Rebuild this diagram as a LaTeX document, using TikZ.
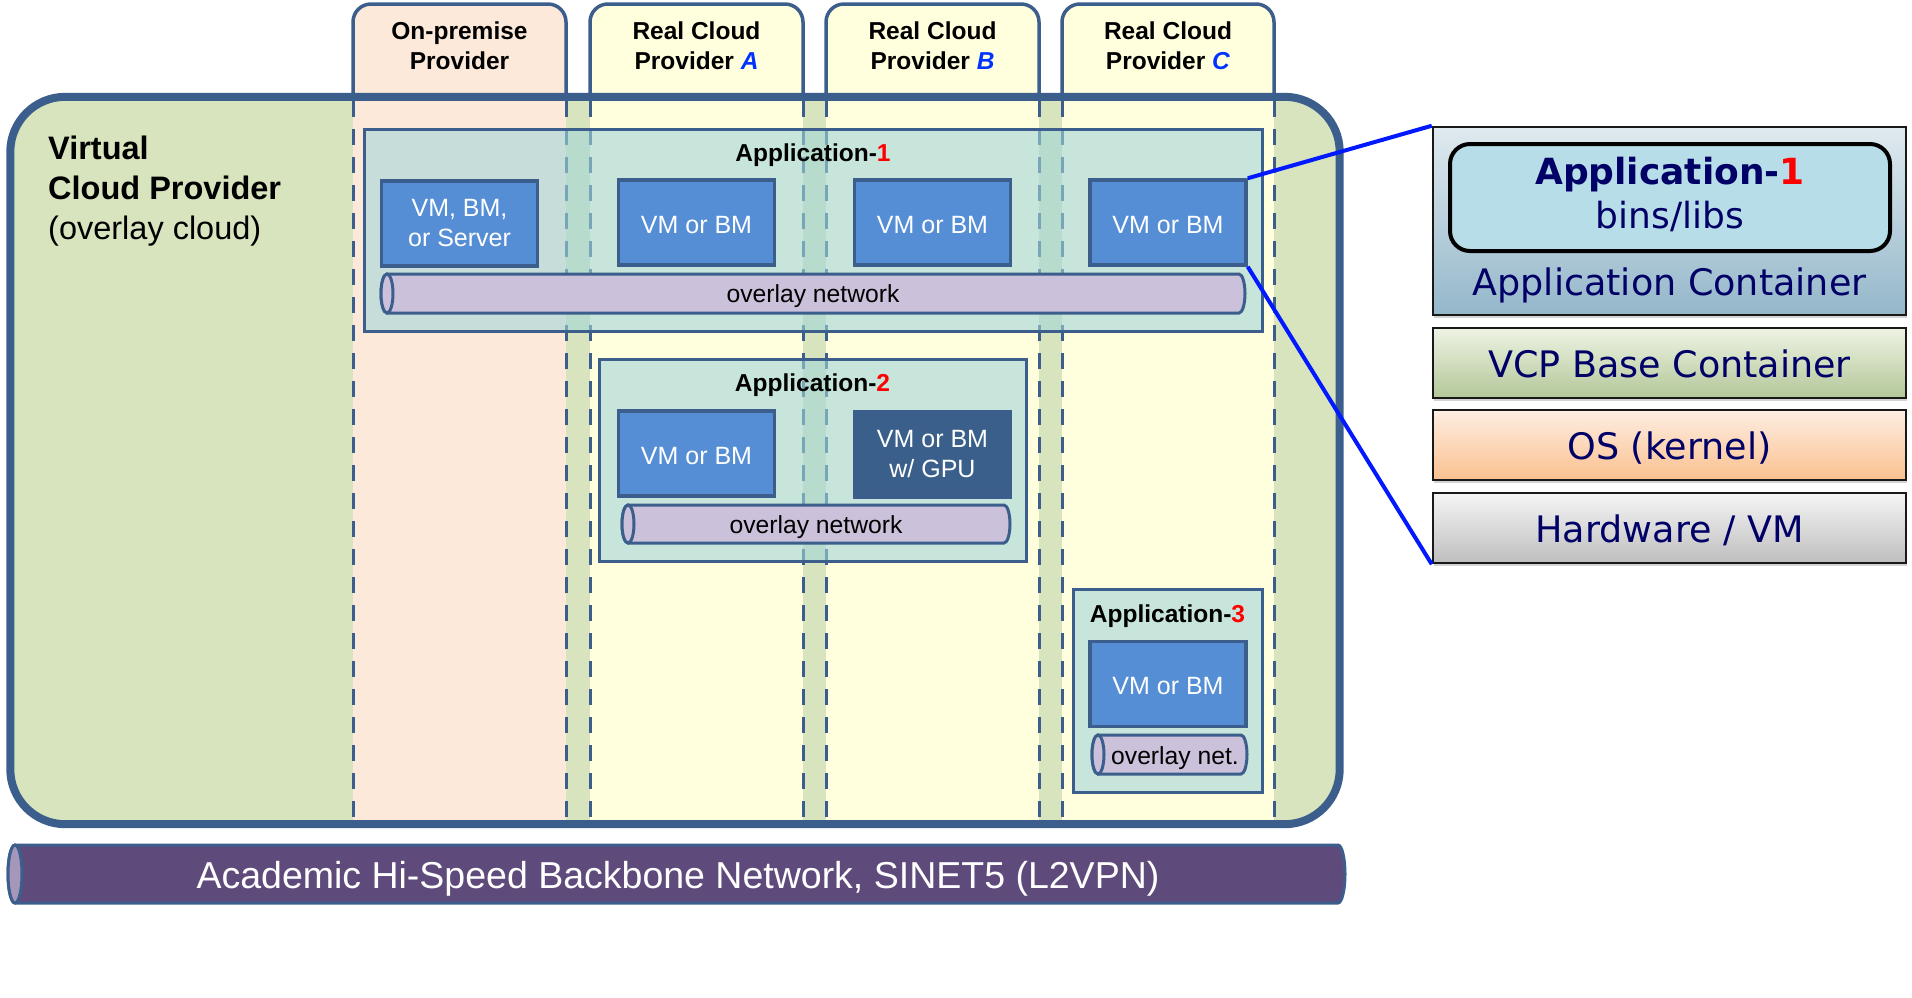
\documentclass[tikz,border=0pt]{standalone}
\usepackage{fontspec}
\setmainfont{Liberation Sans}
\newfontfamily\panelfont{DejaVu Sans}
\usetikzlibrary{shadows}

\definecolor{vcpgreen}{HTML}{D7E4BD}
\definecolor{premfill}{HTML}{FDE9D9}
\definecolor{cloudfill}{HTML}{FFFEDD}
\definecolor{frameblue}{HTML}{3B5E8C}
\definecolor{appfill}{RGB}{163,213,217}
\definecolor{vmfill}{HTML}{558ED5}
\definecolor{gpufill}{HTML}{3A5F8B}
\definecolor{netfill}{HTML}{CCC1DA}
\definecolor{backbonefill}{HTML}{5F4B7B}
\definecolor{backboneend}{HTML}{A497BA}
\definecolor{navy}{RGB}{0,0,102}
\definecolor{provblue}{HTML}{0033FF}
\definecolor{zoomblue}{HTML}{0019FF}
\definecolor{innerfill}{HTML}{B7DEE8}
\definecolor{actop}{HTML}{E0EAEF}
\definecolor{acbot}{HTML}{94B7CA}
\definecolor{basetop}{HTML}{EEF3E4}
\definecolor{basebot}{HTML}{B3C798}
\definecolor{ostop}{HTML}{FEEEE2}
\definecolor{osbot}{HTML}{FAC08F}
\definecolor{hwtop}{HTML}{F5F5F5}
\definecolor{hwbot}{HTML}{BEBEBE}

\tikzstyle{tabline}=[draw=frameblue, line width=3.5pt, rounded corners=18pt]
\tikzstyle{colline}=[draw=frameblue, line width=3pt, dash pattern=on 16pt off 12pt]
\tikzstyle{vcpbox}=[fill=vcpgreen, rounded corners=55pt, inner sep=0pt]
\tikzstyle{vcpline}=[draw=frameblue, line width=8pt, rounded corners=55pt]
\tikzstyle{tablabel}=[align=center, inner sep=0pt, font=\bfseries\fontsize{24.5}{30}\selectfont]
\tikzstyle{app}=[draw=frameblue, line width=3pt, fill=appfill, fill opacity=0.6, minimum height=202pt, inner sep=0pt]
\tikzstyle{apptitle}=[inner sep=0pt, font=\bfseries\fontsize{24.5}{30}\selectfont]
\tikzstyle{vm}=[draw=frameblue, line width=3.5pt, fill=vmfill, minimum width=156pt, minimum height=85pt, inner sep=0pt, align=center, text=white, font=\fontsize{25}{30}\selectfont]
\tikzstyle{pipeline}=[draw=frameblue, line width=3pt]
\tikzstyle{pipetext}=[inner sep=0pt, font=\fontsize{24.7}{30}\selectfont]
\tikzstyle{paneltext}=[inner sep=0pt, text=navy, text height=28.5pt, text depth=0pt, font=\panelfont\fontsize{36.5}{45}\selectfont]
\tikzstyle{layer}=[paneltext, draw=black!90, line width=2.5pt, minimum width=473pt, minimum height=70pt, drop shadow={shadow xshift=1pt, shadow yshift=-3pt, opacity=0.35}]
\tikzstyle{innerapp}=[draw=black, line width=4pt, fill=innerfill, rounded corners=20pt, minimum width=440pt, minimum height=107pt, inner sep=0pt]
\tikzstyle{zoomline}=[draw=zoomblue, line width=4pt]

% horizontal pipe: x1, y1, x2, y2, end radius, body fill, face fill
\newcommand{\netpipe}[7]{%
  \pgfmathsetmacro{\pipecy}{(#2+#4)/2}
  \pgfmathsetmacro{\pipery}{(#4-#2)/2}
  \pgfmathsetmacro{\pipexa}{#1+#5}
  \pgfmathsetmacro{\pipexb}{#3-#5}
  \filldraw[pipeline, fill=#6] (\pipexa,#2) -- (\pipexb,#2)
    arc[start angle=-90, end angle=90, x radius=#5, y radius=\pipery]
    -- (\pipexa,#4)
    arc[start angle=90, end angle=270, x radius=#5, y radius=\pipery] -- cycle;
  \filldraw[pipeline, fill=#7] (\pipexa,\pipecy) ellipse[x radius=#5, y radius=\pipery];
}

\begin{document}
\begin{tikzpicture}[x=1pt, y=-1pt]
    \useasboundingbox (0,0) rectangle (1912,997);

    % provider tabs
    \foreach \lx/\rx/\col in {353/566/premfill, 590/803/cloudfill, 826/1039/cloudfill, 1062/1274/cloudfill}
        \fill[\col, rounded corners=18pt] (\lx,140) -- (\lx,4) -- (\rx,4) -- (\rx,140) -- cycle;

    \node[vcpbox, minimum width=1329pt, minimum height=727pt] (vcp) at (675,460.5) {};

    \foreach \lx/\rx/\col in {353/566/premfill, 590/803/cloudfill, 826/1039/cloudfill, 1062/1274/cloudfill}
    {
        \fill[\col] (\lx,101) rectangle (\rx,820);
        \draw[colline] (\lx,101) -- (\lx,820) (\rx,101) -- (\rx,820);
    }

    \draw[vcpline] (vcp.north west) rectangle (vcp.south east);
    \foreach \lx/\rx in {353/566, 590/803, 826/1039, 1062/1274}
        \draw[tabline] (\lx,97) -- (\lx,4) -- (\rx,4) -- (\rx,97);

    \node[tablabel] (tabprem) at (459.5,46) {On-premise\\Provider};
    \foreach \x/\name/\letter in {696.5/tabA/A, 932.5/tabB/B, 1168/tabC/C}
        \node[tablabel] (\name) at (\x,46) {Real Cloud\\Provider \textcolor{provblue}{\textit{\letter}}};

    \node[anchor=north west, align=left, inner sep=0pt, font=\fontsize{32.5}{40}\selectfont] (vcplabel) at (48,136)
        {\textbf{Virtual}\\\textbf{Cloud Provider}\\(overlay cloud)};

    % applications
    \node[app, minimum width=898pt] (app1) at (813,230) {};
    \node[app, minimum width=427pt] (app2) at (812.5,460) {};
    \node[app, minimum width=189pt, minimum height=203pt] (app3) at (1167.5,690.5) {};
    \foreach \pos/\name/\num in {{(813,155.5)/app1title/1}, {(812.5,385)/app2title/2}, {(1167.5,616)/app3title/3}}
        \node[apptitle] (\name) at \pos {Application-\textcolor{red}{\num}};

    \node[vm] (prem1) at (459.5,223.5) {VM, BM,\\or Server};
    \foreach \pos/\name in {{(696.5,222.5)/provA1}, {(932.5,222.5)/provB1}, {(1168,222.5)/provC1},
                            {(696.5,453.5)/provA2}, {(1168,684)/provC3}}
        \node[vm, text height=21pt, text depth=0pt] (\name) at \pos {VM or BM};
    \node[vm, fill=gpufill] (gpuB2) at (932.5,454.5) {VM or BM\\w/ GPU};

    \netpipe{381}{274}{1245}{313}{6}{netfill}{netfill}
    \node[pipetext] (net1) at (813,296.5) {overlay network};
    \netpipe{622}{505}{1010}{543}{6}{netfill}{netfill}
    \node[pipetext] (net2) at (816,527) {overlay network};
    \netpipe{1092}{735}{1247}{774}{6}{netfill}{netfill}
    \node[pipetext] (net3) at (1175,758) {overlay net.};

    % backbone
    \netpipe{8}{845}{1345}{903}{7}{backbonefill}{backboneend}
    \node[pipetext, text=white, font=\fontsize{37.5}{44}\selectfont] (backbone) at (678,878.5)
        {Academic Hi-Speed Backbone Network, SINET5 (L2VPN)};

    % container stack
    \node[layer, minimum height=188pt, top color=actop, bottom color=acbot] (appcont) at (1669.5,221) {};
    \node[innerapp] (appinner) at (1670,197.5) {};
    \node[inner sep=0pt, align=center, text=navy, font=\panelfont\fontsize{36}{43.3}\selectfont] (appinnerlbl) at (1670,194.5)
        {\textbf{Application-\textcolor{red}{1}}\\bins/libs};
    \node[paneltext] (appcontlbl) at (1669.5,281.5) {Application Container};
    \node[layer, top color=basetop, bottom color=basebot] (vcpbase) at (1669.5,363) {VCP Base Container};
    \node[layer, top color=ostop, bottom color=osbot] (oskernel) at (1669.5,445) {OS (kernel)};
    \node[layer, top color=hwtop, bottom color=hwbot] (hwvm) at (1669.5,528) {Hardware / VM};

    % zoom into one VM
    \draw[zoomline] (provC1.north east) -- (appcont.north west);
    \draw[zoomline] (provC1.south east) -- (hwvm.south west);

\end{tikzpicture}
\end{document}
